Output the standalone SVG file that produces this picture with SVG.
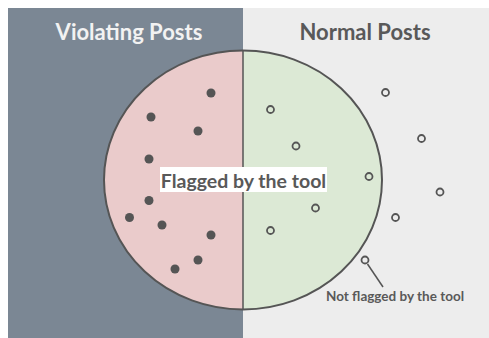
<svg xmlns="http://www.w3.org/2000/svg" width="489" height="338" viewBox="0 0 489 338">
<style>
.title{font-family:Lato,"Open Sans",sans-serif;font-weight:bold;font-size:22px;text-anchor:middle}
.lbl{font-family:Lato,"Open Sans",sans-serif;font-weight:bold;fill:#595959}
.v{fill:#555}
.n{fill:none;stroke:#555;stroke-width:1.8}
</style>
<rect x="0" y="0" width="489" height="338" fill="#ffffff"/>
<g id="panel-violating">
<rect x="8" y="8" width="235" height="330" fill="#7b8794"/>
<text class="title" x="129" y="40" fill="#f2f2f2">Violating Posts</text>
</g>
<g id="panel-normal">
<rect x="243" y="8" width="246" height="330" fill="#ededed"/>
<text class="title" x="365" y="40" fill="#595959">Normal Posts</text>
</g>
<g id="flagged-region">
<path d="M243,50.5 A139,129.5 0 0 0 243,309.5 Z" fill="#eacbcb"/>
<path d="M243,50.5 A139,129.5 0 0 1 243,309.5 Z" fill="#dce9d5"/>
<ellipse cx="243" cy="180" rx="139" ry="129.5" fill="none" stroke="#555" stroke-width="2"/>
<line x1="243" y1="50.5" x2="243" y2="309.5" stroke="#555" stroke-width="1.5"/>
</g>
<g id="violating-dots">
<circle class="v" cx="211" cy="93" r="4.5"/>
<circle class="v" cx="151" cy="117" r="4.5"/>
<circle class="v" cx="198" cy="131" r="4.5"/>
<circle class="v" cx="149" cy="159" r="4.5"/>
<circle class="v" cx="149" cy="200.5" r="4.5"/>
<circle class="v" cx="129.5" cy="217.5" r="4.5"/>
<circle class="v" cx="162" cy="225" r="4.5"/>
<circle class="v" cx="211" cy="235" r="4.5"/>
<circle class="v" cx="198" cy="260" r="4.5"/>
<circle class="v" cx="175" cy="269" r="4.5"/>
</g>
<g id="normal-dots">
<circle class="n" cx="270.5" cy="109.5" r="3.5"/>
<circle class="n" cx="385.5" cy="92.5" r="3.5"/>
<circle class="n" cx="296" cy="146" r="3.5"/>
<circle class="n" cx="421.5" cy="138.5" r="3.5"/>
<circle class="n" cx="369" cy="176.5" r="3.5"/>
<circle class="n" cx="440" cy="192" r="3.5"/>
<circle class="n" cx="315.5" cy="208" r="3.5"/>
<circle class="n" cx="395.5" cy="217.5" r="3.5"/>
<circle class="n" cx="270.5" cy="230.5" r="3.5"/>
<circle class="n" cx="365" cy="260" r="3.5"/>
</g>
<g id="flagged-label">
<rect x="160" y="167" width="167" height="25" fill="#ffffff"/>
<text class="lbl" x="243.5" y="188" font-size="19.5" text-anchor="middle">Flagged by the tool</text>
</g>
<g id="connectors">
<line x1="367.5" y1="264" x2="383" y2="287" stroke="#555" stroke-width="1.5"/>
</g>
<g id="not-flagged-label">
<text class="lbl" x="395" y="300.5" font-size="13.5" text-anchor="middle">Not flagged by the tool</text>
</g>
</svg>
